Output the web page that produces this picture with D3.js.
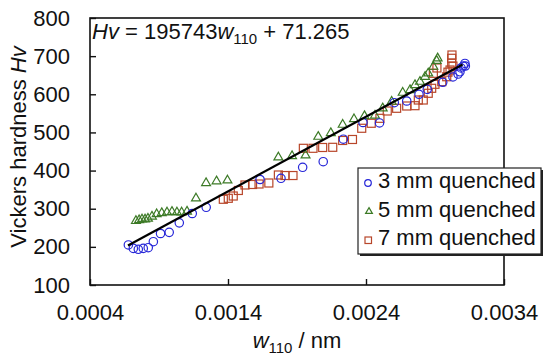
<!DOCTYPE html>
<html>
<head>
<meta charset="utf-8">
<script src="https://cdn.jsdelivr.net/npm/d3@7"></script>
<style>
  body { margin: 0; background: #fff; }
  svg { display: block; font-family: "Liberation Sans", Arial, sans-serif; }
</style>
</head>
<body>
<div id="chart"></div>
<script>
// 3 mm quenched (circles)
const w3 = [0.000678, 0.000714, 0.00075, 0.000786, 0.000822, 0.000859, 0.000911, 0.000974, 0.001047, 0.001141,
  0.001242, 0.001632, 0.001784, 0.001941, 0.00209, 0.002236, 0.002378, 0.002498, 0.002605, 0.002695,
  0.002784, 0.002844, 0.002956, 0.00303, 0.003067, 0.003081, 0.003088, 0.003105, 0.00312, 0.003117];
const hv3 = [205, 196, 193.6, 196, 197.8, 213.5, 235, 238, 263, 287.5,
  303.7, 376.6, 379.8, 408.6, 423.3, 482.3, 526, 524.8, 578, 582.4,
  600, 613, 631.5, 645.4, 653, 659, 669, 674, 674, 680.8];

// 5 mm quenched (triangles)
const w5 = [0.000733, 0.000756, 0.000777, 0.000799, 0.00082, 0.000849, 0.000883, 0.00092, 0.000958, 0.000994,
  0.00103, 0.001064, 0.001103, 0.001168, 0.001241, 0.001317, 0.001396, 0.001765, 0.001864, 0.001962,
  0.002054, 0.002145, 0.002231, 0.002313, 0.002389, 0.002465, 0.002521, 0.002586, 0.002666, 0.002719,
  0.002755, 0.002791, 0.002828, 0.002851, 0.002888, 0.002912, 0.002919];
const hv5 = [268, 270, 272, 272, 274, 279.6, 286, 288.8, 290.6, 292,
  290.6, 290.6, 292.7, 327.3, 367.4, 372, 374.5, 434.8, 438.2, 440,
  488.8, 498.5, 520.3, 535, 543, 544.4, 563.3, 580.6, 604.2, 611.3,
  624.4, 633, 646, 655, 672.4, 688, 694.4];

// 7 mm quenched (squares)
const w7 = [0.001366, 0.001402, 0.001438, 0.001475, 0.001523, 0.001578, 0.001625, 0.001696, 0.001765, 0.001813,
  0.001871, 0.001946, 0.002016, 0.002086, 0.002159, 0.002231, 0.002302, 0.002369, 0.002438, 0.002501,
  0.002554, 0.002622, 0.002695, 0.002755, 0.002779, 0.002815, 0.002851, 0.002876, 0.0029, 0.002949,
  0.002888, 0.002914, 0.002985, 0.002994, 0.003009, 0.003021, 0.00303, 0.003021, 0.003023];
const hv7 = [324.7, 327.3, 333.3, 347.8, 362.2, 363.5, 364.8, 367.4, 388.4, 387,
  387, 458.4, 458.4, 460.5, 461, 478.9, 481.5, 510.9, 524, 537,
  556.2, 563.3, 569.3, 570.1, 585, 585, 602.6, 615.7, 626.2, 633,
  655, 669, 646, 658, 663.7, 681.3, 674, 694.4, 703];

// fit line Hv = 195743 w + 71.265
const fitSlope = 195743;
const fitIntercept = 71.265;
const fitRange = [0.000675, 0.0031];

const xTicks = [0.0004, 0.0014, 0.0024, 0.0034];
const yTicks = [100, 200, 300, 400, 500, 600, 700, 800];
const legendNames = ["3 mm quenched", "5 mm quenched", "7 mm quenched"];

const W = 550, H = 362;
const margin = { top: 18, right: 46, bottom: 77, left: 90 };
const colBlue = "#2626d8", colGreen = "#3c7a26", colRed = "#b8462a";
const fs = "22px", fsSub = "15px";

const svg = d3.select("#chart").append("svg")
  .attr("width", W).attr("height", H);

const x = d3.scaleLinear().domain([0.0004, 0.0034]).range([margin.left, W - margin.right]);
const y = d3.scaleLinear().domain([100, 800]).range([H - margin.bottom, margin.top]);

// frame
svg.append("rect")
  .attr("x", x(0.0004)).attr("y", y(800))
  .attr("width", x(0.0034) - x(0.0004)).attr("height", y(100) - y(800))
  .attr("fill", "none").attr("stroke", "#111").attr("stroke-width", 1.6);

const xAxis = d3.axisBottom(x).tickValues(xTicks).tickFormat(d3.format(".4f"))
  .tickSizeInner(-6).tickSizeOuter(0).tickPadding(19);
const yAxis = d3.axisLeft(y).tickValues(yTicks).tickFormat(d3.format("d"))
  .tickSizeInner(-6).tickSizeOuter(0).tickPadding(20);

const gx = svg.append("g").attr("transform", "translate(0," + y(100) + ")").call(xAxis);
const gy = svg.append("g").attr("transform", "translate(" + x(0.0004) + ",0)").call(yAxis);
[gx, gy].forEach(g => {
  g.select(".domain").remove();
  g.selectAll(".tick line").attr("stroke", "#111").attr("stroke-width", 1.4);
  g.selectAll(".tick text").attr("fill", "#111").style("font-size", fs);
});

// axis titles
const xt = svg.append("text")
  .attr("x", 297).attr("y", 348)
  .attr("text-anchor", "middle").style("font-size", fs).attr("fill", "#111");
xt.append("tspan").style("font-style", "italic").text("w");
xt.append("tspan").attr("dy", 5).style("font-size", fsSub).text("110");
xt.append("tspan").attr("dy", -5).text(" / nm");

const yt = svg.append("text")
  .attr("transform", "translate(26,147) rotate(-90)")
  .attr("text-anchor", "middle").style("font-size", fs).attr("fill", "#111");
yt.append("tspan").text("Vickers hardness ");
yt.append("tspan").style("font-style", "italic").text("Hv");

// equation
const eq = svg.append("text")
  .attr("x", 92).attr("y", 39).style("font-size", fs).attr("fill", "#111");
eq.append("tspan").style("font-style", "italic").text("Hv");
eq.append("tspan").text(" = 195743");
eq.append("tspan").style("font-style", "italic").text("w");
eq.append("tspan").attr("dy", 5).style("font-size", fsSub).text("110");
eq.append("tspan").attr("dy", -5).text(" + 71.265");

// data
const pts3 = w3.map((d, i) => [d, hv3[i]]);
const pts5 = w5.map((d, i) => [d, hv5[i]]);
const pts7 = w7.map((d, i) => [d, hv7[i]]);

const tri = d3.symbol().type(d3.symbolTriangle).size(34);

svg.append("g").selectAll("rect").data(pts7).enter().append("rect")
  .attr("x", d => x(d[0]) - 4).attr("y", d => y(d[1]) - 4)
  .attr("width", 8).attr("height", 8)
  .attr("fill", "none").attr("stroke", colRed).attr("stroke-width", 1.2);

svg.append("g").selectAll("path").data(pts5).enter().append("path")
  .attr("d", tri)
  .attr("transform", d => "translate(" + x(d[0]) + "," + y(d[1]) + ")")
  .attr("fill", "none").attr("stroke", colGreen).attr("stroke-width", 1.2);

svg.append("g").selectAll("circle").data(pts3).enter().append("circle")
  .attr("cx", d => x(d[0])).attr("cy", d => y(d[1])).attr("r", 4.2)
  .attr("fill", "none").attr("stroke", colBlue).attr("stroke-width", 1.2);

// fit line
svg.append("line")
  .attr("x1", x(fitRange[0])).attr("y1", y(fitSlope * fitRange[0] + fitIntercept))
  .attr("x2", x(fitRange[1])).attr("y2", y(fitSlope * fitRange[1] + fitIntercept))
  .attr("stroke", "#000").attr("stroke-width", 2.2);

// legend
const lg = svg.append("g").attr("transform", "translate(358,168)");
lg.append("rect").attr("x", 2).attr("y", 2).attr("width", 183).attr("height", 86).attr("fill", "#222");
lg.append("rect").attr("x", 0).attr("y", 0).attr("width", 183).attr("height", 86)
  .attr("fill", "#fff").attr("stroke", "#222").attr("stroke-width", 1.2);

const rows = lg.selectAll(".row").data(legendNames).enter().append("g")
  .attr("transform", (d, i) => "translate(0," + (15 + i * 28.5) + ")");
rows.append("text").attr("x", 20).attr("y", 5)
  .style("font-size", fs).attr("fill", "#111").text(d => d);
rows.filter((d, i) => i === 0).append("circle")
  .attr("cx", 10).attr("cy", 0).attr("r", 3.3)
  .attr("fill", "none").attr("stroke", colBlue).attr("stroke-width", 1.2);
rows.filter((d, i) => i === 1).append("path")
  .attr("d", d3.symbol().type(d3.symbolTriangle).size(20)).attr("transform", "translate(11,0)")
  .attr("fill", "none").attr("stroke", colGreen).attr("stroke-width", 1.2);
rows.filter((d, i) => i === 2).append("rect")
  .attr("x", 7).attr("y", -3).attr("width", 6.5).attr("height", 6.5)
  .attr("fill", "none").attr("stroke", colRed).attr("stroke-width", 1.2);
</script>
</body>
</html>
